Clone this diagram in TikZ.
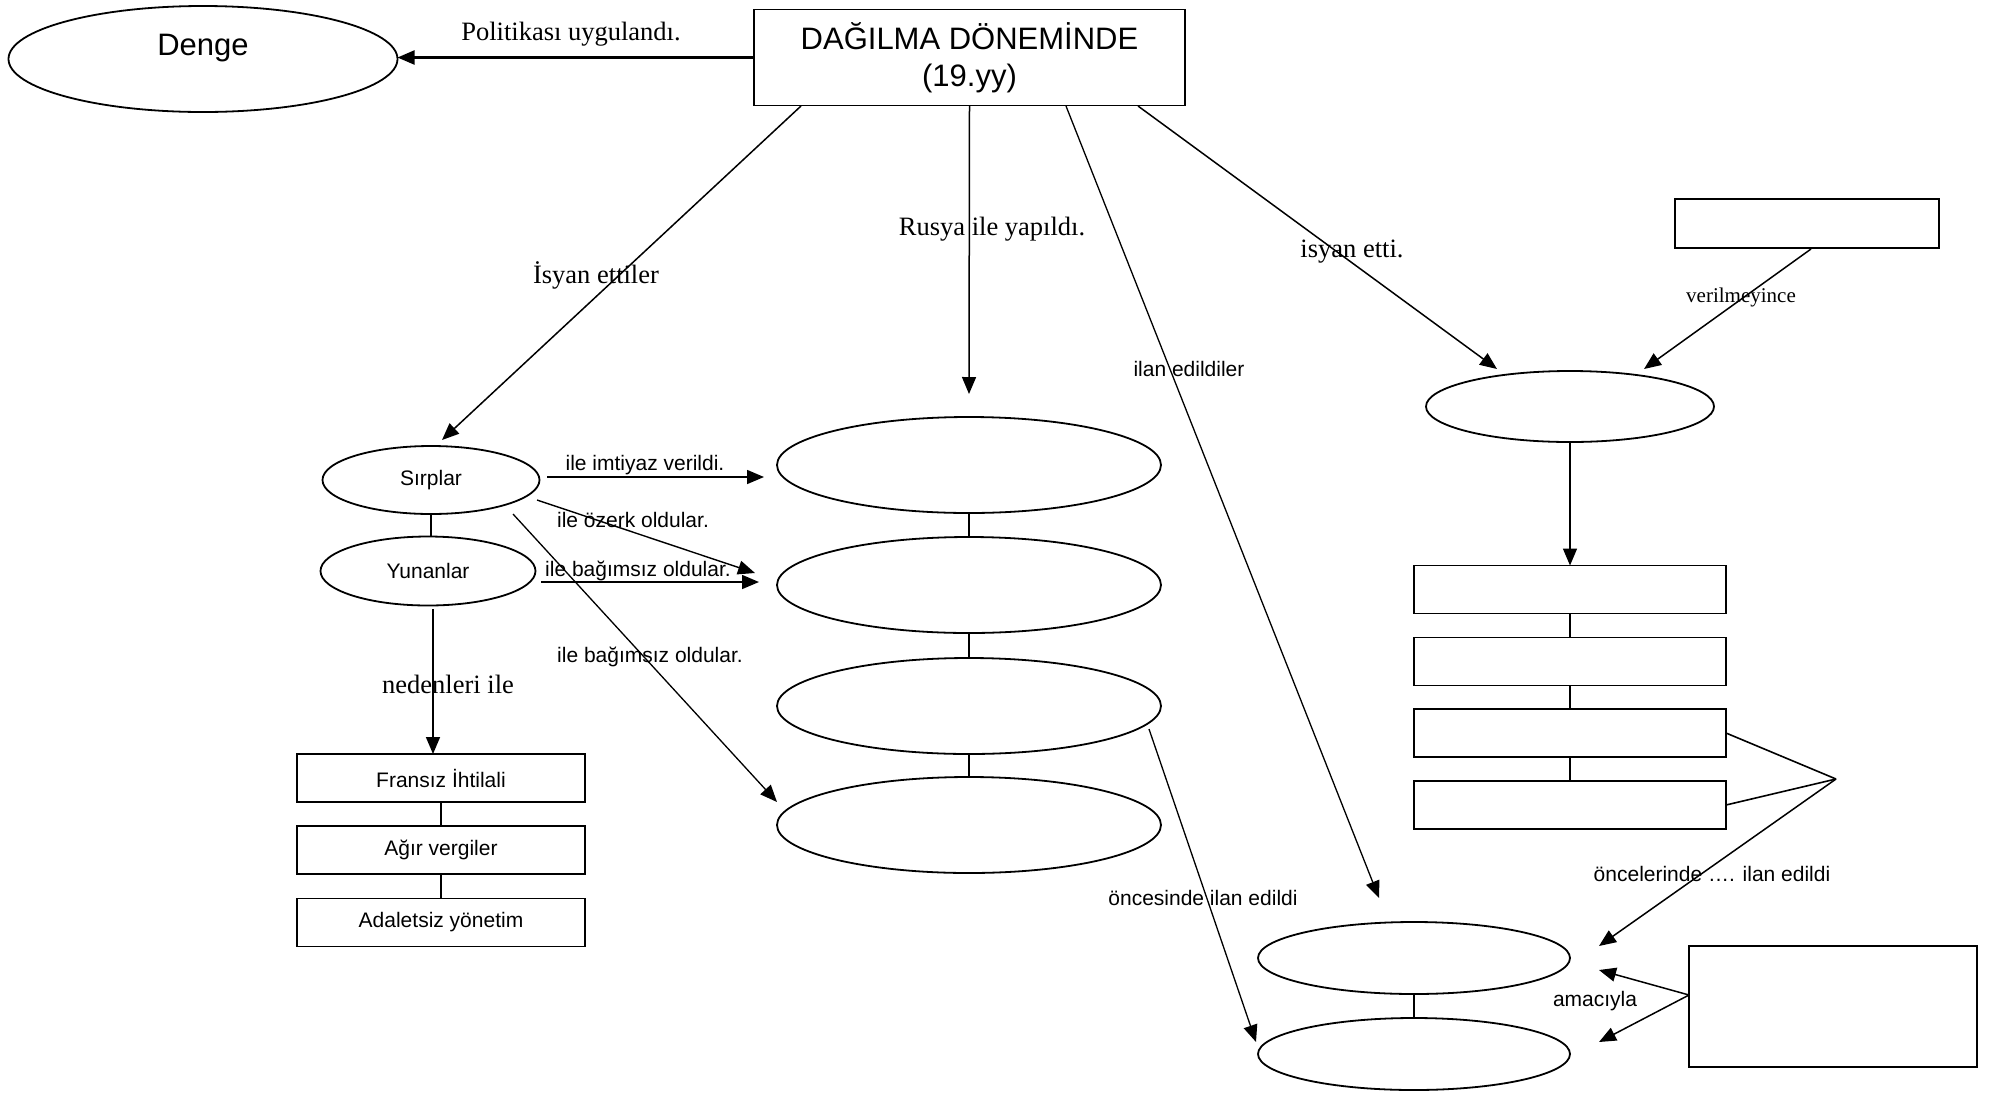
\documentclass[tikz,border=0pt]{standalone}
\usepackage{fontspec}
\setmainfont{Liberation Serif}
\setsansfont{Liberation Sans}
\usetikzlibrary{shapes.geometric,arrows.meta}
\begin{document}
\begin{tikzpicture}[x=1pt,y=-1pt,
  every node/.style={inner sep=0pt, outer sep=0pt},
  ell/.style={draw, ellipse, line width=1.8pt},
  box/.style={draw, rectangle, line width=1.8pt},
  arr/.style={line width=1.6pt, -{Triangle[length=17pt,width=14pt]}},
  ln/.style={line width=1.6pt},
  serl/.style={font=\fontsize{26.5}{30}\selectfont},
  sers/.style={font=\fontsize{21}{25}\selectfont},
  sanl/.style={font=\sffamily\fontsize{21}{25}\selectfont},
  big/.style={font=\sffamily\fontsize{31}{37}\selectfont},
]
\useasboundingbox (0,0) rectangle (1990,1096);
\fill[white] (0,0) rectangle (1990,1096);

% ---- top
\node[ell, minimum width=389pt, minimum height=106pt] (denge) at (203,59) {};
\node[big] (dengetxt) at (203,48) {Denge};
\node[box, big, align=center, minimum width=431pt, minimum height=96pt] (top) at (969.5,57.5) {DAĞILMA DÖNEMİNDE\\(19.yy)};
\draw[arr, line width=2.2pt] (top.west) -- (top.west -| denge.east);
\node[serl] (lpol) at (571,34) {Politikası uygulandı.};

% ---- middle column ellipses
\node[ell, minimum width=384pt, minimum height=96pt] (m1) at (969,465) {};
\node[ell, minimum width=384pt, minimum height=96pt] (m2) at (969,585) {};
\node[ell, minimum width=384pt, minimum height=96pt] (m3) at (969,706) {};
\node[ell, minimum width=384pt, minimum height=96pt] (m4) at (969,825) {};
\draw[ln] (m1.south) -- (m2.north);
\draw[ln] (m2.south) -- (m3.north);
\draw[ln] (m3.south) -- (m4.north);

% ---- left
\node[ell, sanl, minimum width=217pt, minimum height=68pt] (sir) at (431,480) {Sırplar};
\node[ell, sanl, minimum width=215pt, minimum height=69pt] (yun) at (428,571) {Yunanlar};
\draw[ln] (sir.south) -- (sir.south |- yun.north);

\node[box, sanl, minimum width=288pt, minimum height=48pt] (f1) at (441,778) {Fransız İhtilali};
\node[box, sanl, minimum width=288pt, minimum height=48pt] (f2) at (441,850) {Ağır vergiler};
\node[box, sanl, minimum width=288pt, minimum height=48pt] (f3) at (441,922.5) {Adaletsiz yönetim};
\draw[ln] (f1.south) -- (f2.north);
\draw[ln] (f2.south) -- (f3.north);

% ---- right
\node[box, minimum width=264pt, minimum height=49pt] (rt) at (1807,223.5) {};
\node[ell, minimum width=288pt, minimum height=71pt] (re) at (1570,406.5) {};
\node[box, minimum width=312pt, minimum height=48pt] (r1) at (1570,589.5) {};
\node[box, minimum width=312pt, minimum height=48pt] (r2) at (1570,661.5) {};
\node[box, minimum width=312pt, minimum height=48pt] (r3) at (1570,733) {};
\node[box, minimum width=312pt, minimum height=48pt] (r4) at (1570,805) {};
\draw[ln] (r1.south) -- (r2.north);
\draw[ln] (r2.south) -- (r3.north);
\draw[ln] (r3.south) -- (r4.north);
\draw[arr] (re.south) -- (r1.north);

% ---- bottom
\node[ell, minimum width=312pt, minimum height=72pt] (b1) at (1414,958) {};
\node[ell, minimum width=312pt, minimum height=72pt] (b2) at (1414,1054) {};
\draw[ln] (b1.south) -- (b2.north);
\node[box, minimum width=288pt, minimum height=121pt] (rb) at (1833,1006.5) {};

% ---- coordinates
\coordinate (t1) at (801,106);
\coordinate (t3) at (1066,106);
\coordinate (t4) at (1138,106);
\coordinate (e1) at (442,440);
\coordinate (e2) at (969,394);
\coordinate (e3) at (1379,898);
\coordinate (e4) at (1497,369);
\coordinate (vs) at (1811,249);
\coordinate (ve) at (1644,369);
\coordinate (p) at (1836,779);
\coordinate (pe) at (1599,946);
\coordinate (am) at (1689,995);
\coordinate (a1) at (1599,970);
\coordinate (a2) at (1599,1042);
\coordinate (os) at (1149,729);
\coordinate (oe) at (1256,1042);
\coordinate (s1) at (547,477);
\coordinate (s1e) at (764,477);
\coordinate (s2) at (537,500);
\coordinate (s2e) at (755,573);
\coordinate (s3) at (541,582);
\coordinate (s3e) at (759,582);
\coordinate (s4) at (513,514);
\coordinate (s4e) at (777,802);
\coordinate (yd) at (433,609);

% ---- connectors from top box
\draw[arr, line width=1.5pt] (t1) -- (e1);
\draw[arr, line width=1.5pt] (top.south) -- (e2);
\draw[arr, line width=1.3pt] (t3) -- (e3);
\draw[arr, line width=1.5pt] (t4) -- (e4);
\node[serl] (lisy) at (596,275) {İsyan ettiler};
\node[serl] (lrus) at (992,229) {Rusya ile yapıldı.};
\node[sanl] (lilan) at (1189,369) {ilan edildiler};
\node[serl] (lisy2) at (1352,252) {isyan etti.};

% ---- right connectors
\draw[arr, line width=1.5pt] (vs) -- (ve);
\node[sers] (lver) at (1741,297) {verilmeyince};
\draw[ln] (r3.east) -- (p);
\draw[ln] (r4.east) -- (p);
\draw[arr, line width=1.5pt] (p) -- (pe);
\node[sanl] (lonc) at (1712,874) {öncelerinde …. ilan edildi};
\draw[arr, line width=1.5pt] (am) -- (a1);
\draw[arr, line width=1.5pt] (am) -- (a2);
\node[sanl] (lam) at (1595,1001) {amacıyla};
\draw[arr, line width=1.3pt] (os) -- (oe);
\node[sanl] (loes) at (1203,898) {öncesinde ilan edildi};

% ---- left connectors
\draw[arr] (s1) -- (s1e);
\node[sanl] (l1) at (645,465) {ile imtiyaz verildi.};
\draw[arr, line width=1.4pt] (s2) -- (s2e);
\node[sanl] (l2) at (633,520) {ile özerk oldular.};
\draw[arr] (s3) -- (s3e);
\node[sanl] (l3) at (638,571) {ile bağımsız oldular.};
\draw[arr, line width=1.3pt] (s4) -- (s4e);
\node[sanl] (l4) at (650,657) {ile bağımsız oldular.};
\draw[arr] (yd) -- (yd |- f1.north);
\node[serl] (lned) at (448,684) {nedenleri ile};
\end{tikzpicture}
\end{document}
